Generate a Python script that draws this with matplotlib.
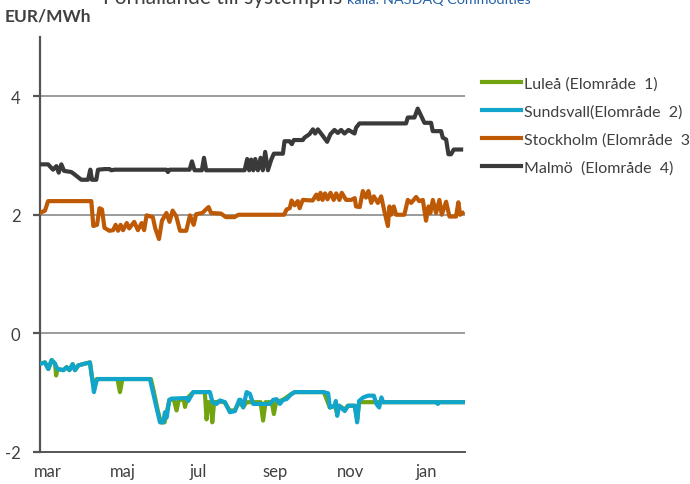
import matplotlib
matplotlib.use("Agg")
import matplotlib.pyplot as plt

plt.rcParams['font.family'] = ['Lato', 'DejaVu Sans']

# day offsets (from late february) and price differences vs system price, EUR/MWh
lulea_days = [0.5, 4, 6.7, 9.4, 12.1, 13, 14, 18.8, 21.5, 23.7, 26.3, 28.2, 30.9, 36.3, 40.3,
              41.7, 43.5, 45.7, 62.5, 64.5, 66.5, 89.5, 92, 95, 97.5, 100.5, 102, 104.5, 108,
              110.2, 112, 116, 117, 118.5, 123.7, 133, 134.4, 136, 138, 139, 140.5, 145, 149,
              153, 157, 160.8, 164, 166.7, 178, 180, 182, 187, 188.7, 190.5, 196, 203, 205.6,
              229, 233.9, 237.9, 239.8, 241.4, 245.9, 248.6, 254, 256, 257.5, 275, 341.4]
lulea_vals = [-0.51, -0.49, -0.60, -0.45, -0.51, -0.71, -0.60, -0.62, -0.57, -0.62, -0.52, -0.62,
              -0.54, -0.51, -0.49, -0.71, -0.90, -0.77, -0.77, -0.99, -0.77, -0.77, -1.0, -1.3,
              -1.50, -1.50, -1.35, -1.12, -1.12, -1.30, -1.12, -1.12, -1.24, -1.10, -0.99, -0.99,
              -1.45, -1.16, -1.16, -1.50, -1.16, -1.15, -1.16, -1.30, -1.30, -1.16, -1.24, -1.16,
              -1.16, -1.47, -1.16, -1.16, -1.36, -1.16, -1.12, -1.02, -0.99, -0.99, -1.25, -1.22,
              -1.35, -1.22, -1.28, -1.22, -1.22, -1.45, -1.16, -1.16, -1.16]

sundsvall_days = [0.5, 4, 6.7, 9.4, 12.1, 14, 18.8, 21.5, 23.7, 26.3, 28.2, 30.9, 36.3, 40.3, 41.7,
                  43.5, 45.7, 47, 88.7, 90.9, 94, 96.8, 99.5, 100.8, 102.2, 104.3, 106.2, 118.3,
                  119.6, 123.7, 137.1, 139.2, 142.5, 145.2, 149.2, 153.2, 157.3, 160.8, 161.8, 164,
                  166.7, 169.4, 172, 185.5, 188.2, 190.9, 193.5, 196.2, 198.9, 203, 205.6, 228.5,
                  232.5, 233.9, 237.9, 238.7, 239.8, 241.4, 245.9, 248.6, 254, 255.9, 257.5, 260.8,
                  264.8, 269.4, 271.5, 273.7, 275.5, 276.9, 320, 321, 322, 341.4]
sundsvall_vals = [-0.51, -0.49, -0.60, -0.45, -0.51, -0.60, -0.62, -0.57, -0.62, -0.52, -0.62, -0.54,
                  -0.51, -0.49, -0.71, -0.99, -0.79, -0.77, -0.77, -0.97, -1.25, -1.50, -1.50, -1.33,
                  -1.42, -1.12, -1.10, -1.09, -1.14, -0.99, -0.99, -1.16, -1.19, -1.13, -1.16, -1.33,
                  -1.31, -1.12, -1.12, -1.25, -0.99, -1.02, -1.19, -1.19, -1.12, -1.11, -1.19, -1.12,
                  -1.11, -1.02, -0.99, -0.99, -1.01, -1.25, -1.22, -1.14, -1.39, -1.22, -1.31, -1.22,
                  -1.22, -1.50, -1.14, -1.08, -1.05, -1.05, -1.19, -1.25, -1.08, -1.16, -1.16, -1.19,
                  -1.16, -1.16]

stockholm_days = [0, 4, 6.5, 41.4, 43, 46, 48, 50, 52, 56, 59, 61, 63, 65, 67, 70, 72, 76, 79, 82,
                  84, 86, 91, 93, 96, 98.4, 102, 104.5, 107, 110, 113, 118, 121, 124, 126, 131, 136,
                  138, 146, 150, 157, 160, 197, 199, 201.5, 203, 205.5, 208, 209.5, 212, 220, 223,
                  224.7, 226.3, 228, 230, 232, 234.4, 237, 239, 241.6, 243.5, 247, 251, 254, 255,
                  258, 260.5, 263, 265, 267.3, 269.4, 272.6, 275.3, 278, 280.7, 282, 283.3, 285.5,
                  287.4, 294, 296.8, 299.5, 303.5, 306, 308.9, 311.5, 313.5, 315, 317, 319.6, 322.3,
                  324.2, 327.7, 330.4, 333, 335.7, 337.6, 339, 341]
stockholm_vals = [2.03, 2.07, 2.23, 2.23, 1.81, 1.83, 2.11, 2.09, 1.78, 1.73, 1.74, 1.83, 1.73, 1.83,
                  1.74, 1.86, 1.77, 1.88, 1.74, 1.86, 1.74, 1.99, 1.96, 1.77, 1.59, 1.90, 2.03, 1.88,
                  2.07, 1.97, 1.73, 1.73, 1.99, 1.83, 2.01, 2.03, 2.13, 2.03, 2.02, 1.96, 1.96, 2.0,
                  2.0, 2.09, 2.11, 2.24, 2.16, 2.23, 2.11, 2.25, 2.24, 2.34, 2.26, 2.37, 2.25, 2.36,
                  2.26, 2.37, 2.25, 2.36, 2.25, 2.37, 2.25, 2.25, 2.28, 2.14, 2.13, 2.40, 2.29, 2.40,
                  2.2, 2.31, 2.2, 2.31, 2.05, 1.81, 2.14, 2.0, 2.14, 2.0, 2.0, 2.25, 2.2, 2.30, 2.23,
                  2.25, 1.90, 2.14, 2.03, 2.25, 2.03, 2.25, 2.0, 2.22, 1.97, 1.97, 1.97, 2.21, 2.0,
                  2.03]

malmo_days = [0.5, 6.5, 10.5, 13.2, 15.1, 17.2, 19.4, 25.3, 27.9, 33.3, 38.7, 40.6, 41.9, 45.4,
              46.8, 52.1, 56.2, 57.5, 60.2, 101.9, 103.2, 104.6, 120.7, 122.6, 124.7, 130.6, 132.3,
              134.1, 165.1, 167.2, 168.8, 170.4, 172.1, 173.7, 175.8, 178, 179.8, 181.7, 183.9,
              186.6, 188.7, 196, 197.3, 201.3, 203.2, 204.8, 212.1, 213.4, 217.5, 220.2, 222,
              224.2, 228.2, 231.7, 234.4, 237.6, 240.3, 243, 245.7, 248.9, 253.8, 255.1, 257.8,
              295.4, 296.8, 302.2, 304.8, 307.5, 310.2, 315.6, 316.9, 323.7, 325, 327.7, 329.6,
              331.7, 333.9, 339.8]
malmo_vals = [2.85, 2.85, 2.76, 2.82, 2.71, 2.85, 2.74, 2.72, 2.68, 2.59, 2.59, 2.76, 2.59, 2.59,
              2.76, 2.77, 2.77, 2.75, 2.76, 2.76, 2.72, 2.76, 2.76, 2.90, 2.75, 2.75, 2.96, 2.75,
              2.75, 2.94, 2.75, 2.93, 2.75, 2.94, 2.75, 2.96, 2.75, 3.06, 2.75, 2.93, 3.03, 3.03,
              3.24, 3.24, 3.19, 3.26, 3.26, 3.30, 3.36, 3.44, 3.37, 3.44, 3.33, 3.23, 3.36, 3.43,
              3.38, 3.43, 3.37, 3.43, 3.37, 3.47, 3.54, 3.54, 3.64, 3.64, 3.79, 3.67, 3.55, 3.55,
              3.41, 3.41, 3.30, 3.27, 3.02, 3.02, 3.10, 3.10]

month_labels = ['mar', 'maj', 'jul', 'sep', 'nov', 'jan']
month_days = [6, 67, 128, 190, 251, 312]

fig = plt.figure(figsize=(6.9, 4.85), dpi=100)
ax = fig.add_axes([0.058, 0.066, 0.616, 0.856])

ax.set_xlim(0, 343)
ax.set_ylim(-2, 5)

for yv in [0, 2, 4]:
    ax.axhline(yv, color='#8a8a8a', lw=1.2, zorder=1)

lw = 3.0
ax.plot(lulea_days, lulea_vals, color='#72A40F', lw=lw, label='Luleå (Elområde  1)', zorder=3,
        solid_joinstyle='round')
ax.plot(sundsvall_days, sundsvall_vals, color='#12A5CB', lw=lw, label='Sundsvall(Elområde  2)',
        zorder=4, solid_joinstyle='round')
ax.plot(stockholm_days, stockholm_vals, color='#BE5A05', lw=lw, label='Stockholm (Elområde  3)',
        zorder=3, solid_joinstyle='round')
ax.plot(malmo_days, malmo_vals, color='#3A3A3A', lw=lw, label='Malmö  (Elområde  4)', zorder=3,
        solid_joinstyle='round')

for side in ['top', 'right']:
    ax.spines[side].set_visible(False)
ax.spines['left'].set_color('#555555')
ax.spines['left'].set_linewidth(1.6)
ax.spines['bottom'].set_color('#555555')
ax.spines['bottom'].set_linewidth(1.4)

ax.set_yticks([-2, 0, 2, 4])
ax.set_yticklabels(['-2', '0', '2', '4'])
ax.tick_params(axis='y', length=5, width=1.6, color='#555555', pad=9,
               labelsize=12, labelcolor='#404040')
ax.set_xticks(month_days)
ax.set_xticklabels(month_labels)
ax.tick_params(axis='x', length=0, pad=8, labelsize=12, labelcolor='#404040')

fig.text(0.007, 0.965, 'EUR/MWh', fontsize=12.5, fontweight='bold', color='#404040',
         va='center', ha='left')
fig.text(0.149, 0.992, 'Förhållande till systempris', fontsize=15, color='#404040',
         va='baseline', ha='left')
fig.text(0.503, 0.992, 'källa: NASDAQ Commodities', fontsize=10.4, color='#2461A8',
         va='baseline', ha='left')

fig.legend(loc='upper left', bbox_to_anchor=(0.699, 0.84), frameon=False, fontsize=11.5,
           handlelength=2.4, handletextpad=0.2, labelspacing=0.85, borderpad=0,
           borderaxespad=0, labelcolor='#404040')

fig.savefig('out.png', dpi=100)
